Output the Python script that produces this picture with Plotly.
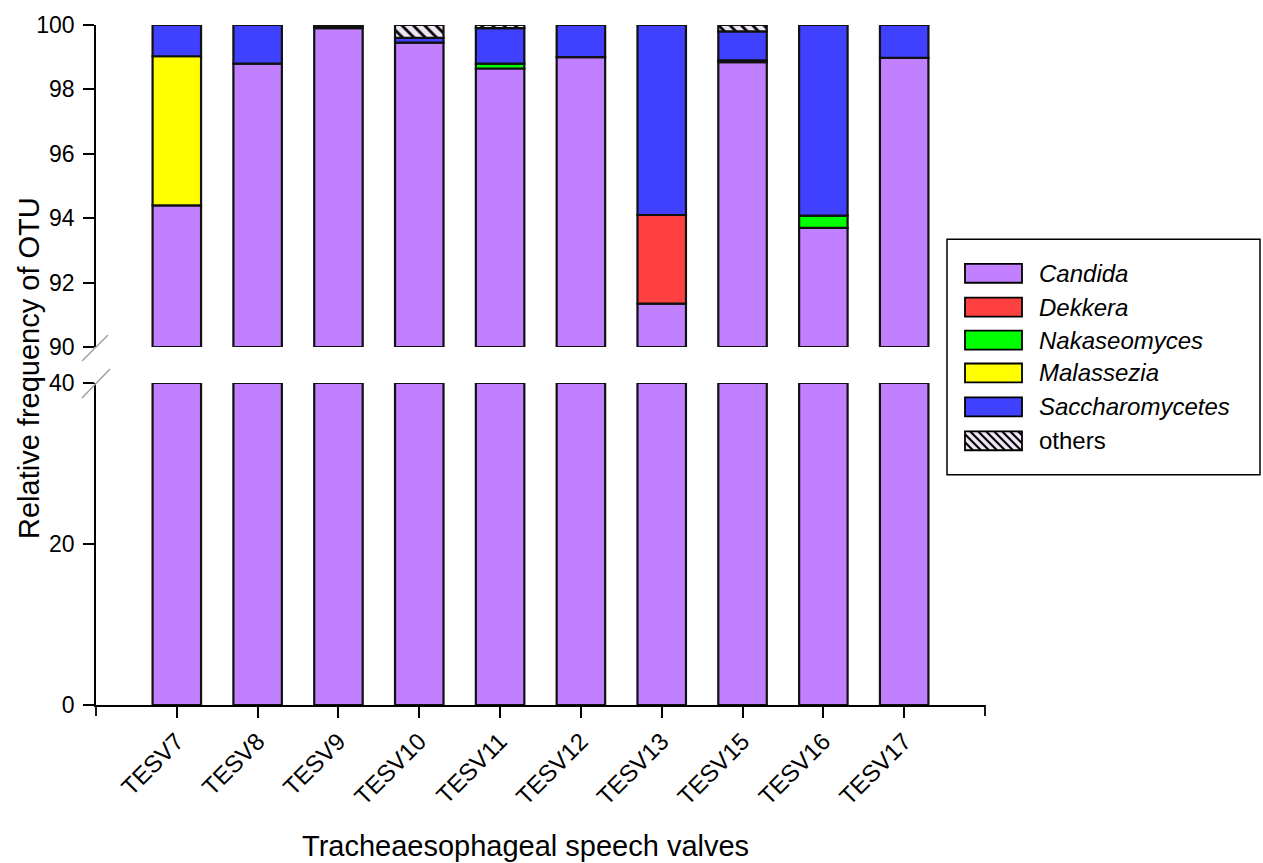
import numpy as np
import plotly.graph_objects as go

# ---------------- data ----------------
samples = ["TESV7", "TESV8", "TESV9", "TESV10", "TESV11",
           "TESV12", "TESV13", "TESV15", "TESV16", "TESV17"]
candida = [94.4, 98.8, 99.9, 99.45, 98.65, 99.0, 91.35, 98.85, 93.7, 98.98]
dekkera = [0, 0, 0, 0, 0, 0, 2.75, 0, 0, 0]
nakaseomyces = [0, 0, 0, 0, 0.15, 0, 0, 0.05, 0.38, 0]
malassezia = [4.63, 0, 0, 0, 0, 0, 0, 0, 0, 0]
saccharomycetes = [0.97, 1.2, 0.05, 0.15, 1.1, 1.0, 5.9, 0.9, 5.92, 1.02]
others = [0, 0, 0.05, 0.4, 0.1, 0, 0, 0.2, 0, 0]

series_names = ["Candida", "Dekkera", "Nakaseomyces", "Malassezia", "Saccharomycetes", "others"]
series_vals = [candida, dekkera, nakaseomyces, malassezia, saccharomycetes, others]
series_colors = ["#C080FF", "#FF4040", "#00FF00", "#FFFF00", "#4040FF", "#EEE6F5"]
italic = [True, True, True, True, True, False]

upper_ticks = [90, 92, 94, 96, 98, 100]
lower_ticks = [0, 20, 40]
break_low, break_high = 40, 90

# ---------------- geometry helpers ----------------
W_FIG, H_FIG = 1263, 863
L, R, T, B = 96, 985, 23, 705
PW, PH = R - L, B - T


def px(x):
    return (x - L) / PW


def py(y):
    return (B - y) / PH


FONT = "Liberation Sans, Arial, sans-serif"
EDGE = dict(color="#111111", width=2.2)

fig = go.Figure()

# lower panel: Candida up to the break
cand = np.array(candida, dtype=float)
fig.add_trace(go.Bar(
    x=samples, y=np.minimum(cand, break_low), base=np.zeros(len(samples)),
    xaxis="x", yaxis="y", width=0.6,
    marker=dict(color=series_colors[0], line=EDGE), showlegend=False))

# upper panel: stacked segments from the break value upward
cum = np.zeros(len(samples))
for name, vals, col in zip(series_names, series_vals, series_colors):
    v = np.array(vals, dtype=float)
    top = cum + v
    bottom = np.maximum(cum, break_high)
    h = top - bottom
    h = np.where((v > 0) & (h > 0), h, np.nan)
    marker = dict(color=col, line=EDGE)
    if name == "others":
        marker["pattern"] = dict(shape="\\", fgcolor="black", bgcolor=col,
                                 size=8, solidity=0.35, fillmode="replace")
    fig.add_trace(go.Bar(x=samples, y=h, base=bottom, xaxis="x", yaxis="y2",
                         width=0.6, name=name, marker=marker, showlegend=False))
    cum = top

shapes = []
annotations = []

# end ticks of the x axis
for xe in (L, R):
    shapes.append(dict(type="line", xref="paper", yref="paper",
                       x0=px(xe), x1=px(xe), y0=py(B), y1=py(B + 11),
                       line=dict(color="black", width=1.8)))

# axis break marks
for (x0, y0, x1, y1) in [(82, 360, 108, 334), (82, 397, 110, 368)]:
    shapes.append(dict(type="line", xref="paper", yref="paper",
                       x0=px(x0), y0=py(y0), x1=px(x1), y1=py(y1),
                       line=dict(color="#A0A0A0", width=1.5)))

# legend
shapes.append(dict(type="rect", xref="paper", yref="paper",
                   x0=px(947), x1=px(1260), y0=py(238), y1=py(474),
                   line=dict(color="black", width=1.5), fillcolor="white"))
rows = [272, 306, 339, 372, 406, 440]
sx0, sx1, sh = 965, 1022, 19
for name, col, it, yc in zip(series_names, series_colors, italic, rows):
    y0, y1 = yc - sh / 2, yc + sh / 2
    shapes.append(dict(type="rect", xref="paper", yref="paper",
                       x0=px(sx0), x1=px(sx1), y0=py(y1), y1=py(y0),
                       line=dict(color="black", width=1.8), fillcolor=col))
    if name == "others":
        # diagonal hatch lines (top-left to bottom-right)
        step = 8
        for s in np.arange(sx0 - sh, sx1, step):
            ax, ay, bx, by = s, y0, s + sh, y1
            if ax < sx0:
                ay = y0 + (sx0 - ax)
                ax = sx0
            if bx > sx1:
                by = y1 - (bx - sx1)
                bx = sx1
            if bx - ax < 1:
                continue
            shapes.append(dict(type="line", xref="paper", yref="paper",
                               x0=px(ax), y0=py(ay), x1=px(bx), y1=py(by),
                               line=dict(color="black", width=2.2)))
    label = f"<i>{name}</i>" if it else name
    annotations.append(dict(xref="paper", yref="paper", x=px(1037), y=py(yc),
                            text=label, showarrow=False, xanchor="left",
                            yanchor="middle",
                            font=dict(family=FONT, size=24, color="black")))

# axis titles
annotations.append(dict(xref="paper", yref="paper", x=px(29), y=py(367),
                        text="Relative frequency of OTU", textangle=-90,
                        showarrow=False, xanchor="center", yanchor="middle",
                        font=dict(family=FONT, size=29, color="black")))
annotations.append(dict(xref="paper", yref="paper", x=px(525), y=py(846),
                        text="Tracheaesophageal speech valves",
                        showarrow=False, xanchor="center", yanchor="middle",
                        font=dict(family=FONT, size=29, color="black")))

tickfont = dict(family=FONT, size=23, color="black")
yaxis_common = dict(showline=True, linecolor="black", linewidth=1.8,
                    ticks="outside", ticklen=11, tickwidth=1.8,
                    tickcolor="black", showgrid=False, zeroline=False,
                    tickfont=tickfont, ticklabelstandoff=4, fixedrange=True)

fig.update_layout(
    width=W_FIG, height=H_FIG, autosize=False,
    margin=dict(l=L, r=W_FIG - R, t=T, b=H_FIG - B, pad=0),
    plot_bgcolor="white", paper_bgcolor="white",
    barmode="overlay", showlegend=False,
    font=dict(family=FONT, color="black"),
    xaxis=dict(type="category", categoryorder="array", categoryarray=samples,
               range=[-1, len(samples)], showline=True, linecolor="black",
               linewidth=1.8, ticks="outside", ticklen=11, tickwidth=1.8,
               tickcolor="black", tickangle=-45,
               tickfont=dict(family=FONT, size=24, color="black"),
               showgrid=False, zeroline=False, anchor="y", fixedrange=True),
    yaxis=dict(domain=[0, py(382)], range=[0, break_low], tickvals=lower_ticks,
               anchor="x", **yaxis_common),
    yaxis2=dict(domain=[py(346), 1], range=[break_high, 100],
                tickvals=upper_ticks, anchor="x", **yaxis_common),
    shapes=shapes, annotations=annotations,
)

fig.write_html("out.html")
